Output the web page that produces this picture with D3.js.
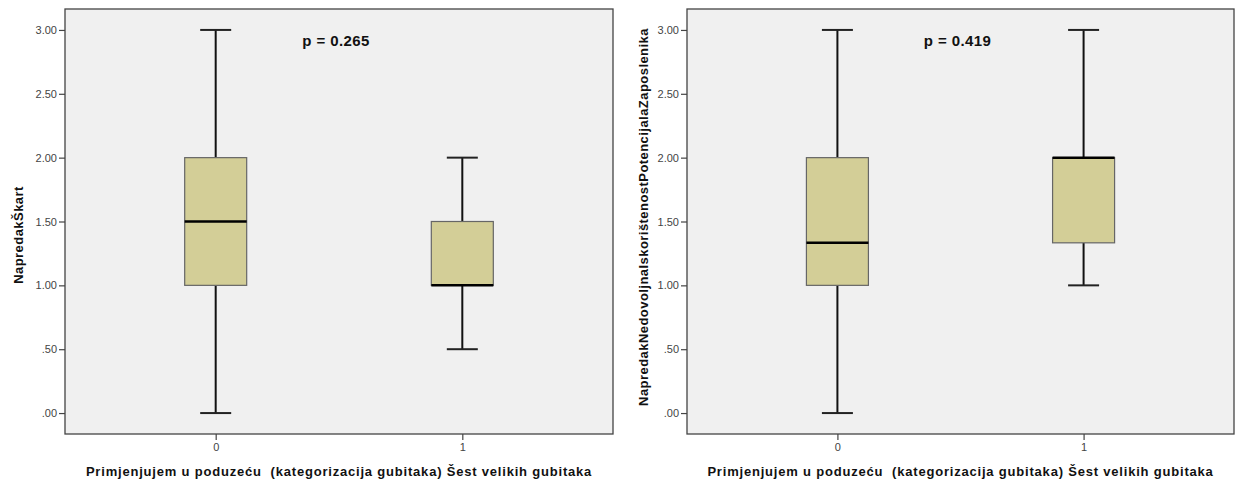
<!DOCTYPE html>
<html><head><meta charset="utf-8">
<script src="https://cdn.jsdelivr.net/npm/d3@7"></script>
<style>body{margin:0;background:#fff}svg{display:block}</style>
</head><body>
<svg id="c" width="1235" height="483"></svg>
<script>
const categories = ["0", "1"];
const yTicks = [0, 0.5, 1, 1.5, 2, 2.5, 3];
const xTitle = "Primjenjujem u poduzeću  (kategorizacija gubitaka) Šest velikih gubitaka";
// [min, q1, median, q3, max] per category
const skartStats = [[0, 1, 1.5, 2, 3], [0.5, 1, 1, 1.5, 2]];
const potencijalStats = [[0, 1, 1.333, 2, 3], [1, 1.333, 2, 2, 3]];
const yLabels = ["NapredakŠkart", "NapredakNedovoljnaIskorištenostPotencijalaZaposlenika"];
const pValues = ["p = 0.265", "p = 0.419"];

const svg = d3.select("#c");
const font = "'Liberation Sans', Arial, sans-serif";

const panels = [
  {x0: 65, x1: 613, stats: skartStats, ylab: yLabels[0], p: pValues[0], ylabX: 23, ylabY: 235},
  {x0: 687, x1: 1234, stats: potencijalStats, ylab: yLabels[1], p: pValues[1], ylabX: 648, ylabY: 217}
];
const plotTop = 9, plotBottom = 434;

panels.forEach(pn => {
  const g = svg.append("g");
  const y = d3.scaleLinear().domain([-0.164, 3.164]).range([plotBottom, plotTop]);
  const x = d3.scalePoint().domain(categories).range([pn.x0, pn.x1]).padding(0.611);

  g.append("rect").attr("x", pn.x0).attr("y", plotTop).attr("width", pn.x1 - pn.x0).attr("height", plotBottom - plotTop)
    .attr("fill", "#f0f0f0").attr("stroke", "#444").attr("stroke-width", 1.3);

  const yAxis = g.append("g").attr("transform", `translate(${pn.x0},0)`)
    .call(d3.axisLeft(y).tickValues(yTicks).tickSize(6).tickPadding(2)
      .tickFormat(d => d3.format(".2f")(d).replace(/^0/, "")));
  yAxis.select(".domain").remove();
  yAxis.selectAll("line").attr("stroke", "#444").attr("stroke-width", 1.2);
  yAxis.selectAll("text").attr("fill", "#444").style("font-family", font).style("font-size", "11px");

  const xAxis = g.append("g").attr("transform", `translate(0,${plotBottom})`)
    .call(d3.axisBottom(x).tickSize(6).tickPadding(3));
  xAxis.select(".domain").remove();
  xAxis.selectAll("line").attr("stroke", "#444").attr("stroke-width", 1.2);
  xAxis.selectAll("text").attr("fill", "#444").style("font-family", font).style("font-size", "11px");

  const bw = 62, cw = 31;
  pn.stats.forEach((s, i) => {
    const cx = x(categories[i]);
    const [mn, q1, md, q3, mx] = s;
    const bg = g.append("g");
    bg.append("line").attr("x1", cx).attr("x2", cx).attr("y1", y(q3)).attr("y2", y(mx)).attr("stroke", "#111").attr("stroke-width", 2);
    bg.append("line").attr("x1", cx).attr("x2", cx).attr("y1", y(q1)).attr("y2", y(mn)).attr("stroke", "#111").attr("stroke-width", 2);
    bg.append("line").attr("x1", cx - cw/2).attr("x2", cx + cw/2).attr("y1", y(mx)).attr("y2", y(mx)).attr("stroke", "#222").attr("stroke-width", 2);
    bg.append("line").attr("x1", cx - cw/2).attr("x2", cx + cw/2).attr("y1", y(mn)).attr("y2", y(mn)).attr("stroke", "#222").attr("stroke-width", 2);
    bg.append("rect").attr("x", cx - bw/2).attr("y", y(q3)).attr("width", bw).attr("height", y(q1) - y(q3))
      .attr("fill", "#d3ce97").attr("stroke", "#666").attr("stroke-width", 1.2);
    bg.append("line").attr("x1", cx - bw/2).attr("x2", cx + bw/2).attr("y1", y(md)).attr("y2", y(md)).attr("stroke", "#000").attr("stroke-width", 2.5);
  });

  g.append("text").attr("x", (pn.x0 + pn.x1) / 2 - 3).attr("y", 46).attr("text-anchor", "middle")
    .style("font-family", font).style("font-size", "15px").style("font-weight", "bold").style("letter-spacing", "0.4px")
    .attr("fill", "#111").text(pn.p);

  g.append("text").attr("x", (pn.x0 + pn.x1) / 2).attr("y", 476).attr("text-anchor", "middle")
    .style("font-family", font).style("font-size", "13px").style("font-weight", "bold").style("letter-spacing", "0.8px")
    .style("white-space", "pre").attr("fill", "#111").text(xTitle);

  g.append("text").attr("transform", `translate(${pn.ylabX},${pn.ylabY}) rotate(-90)`).attr("text-anchor", "middle")
    .style("font-family", font).style("font-size", "13px").style("font-weight", "bold").style("letter-spacing", "0.45px")
    .attr("fill", "#111").text(pn.ylab);
});
</script>
</body></html>
